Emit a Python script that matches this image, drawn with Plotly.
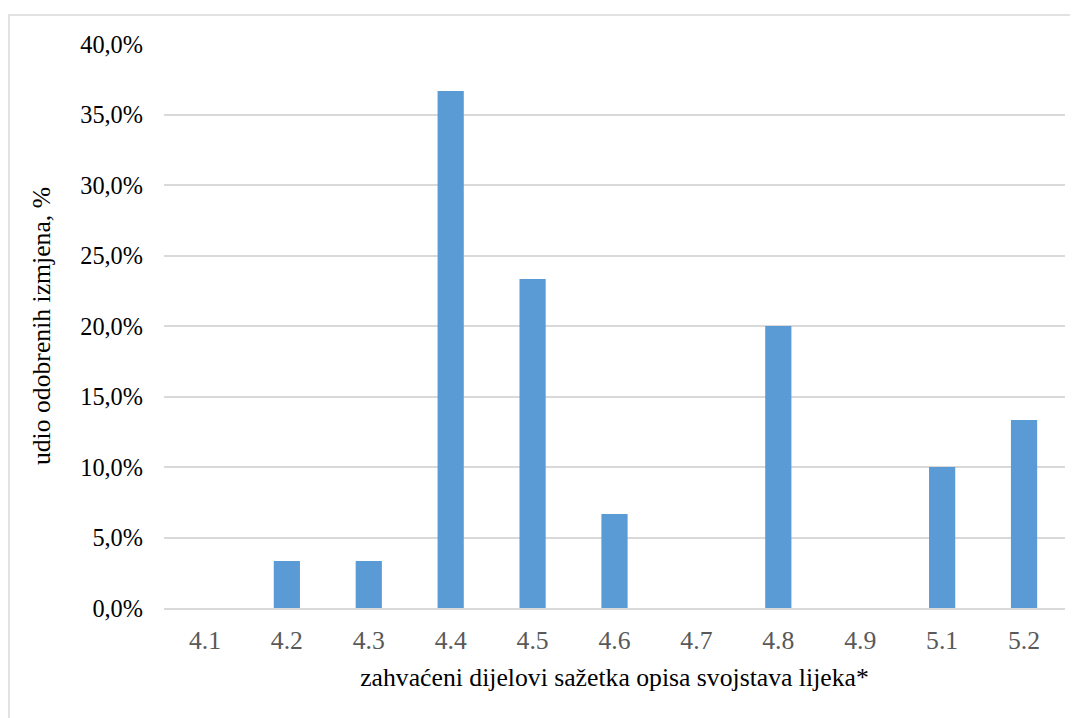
import plotly.graph_objects as go

categories = ["4.1", "4.2", "4.3", "4.4", "4.5", "4.6", "4.7", "4.8", "4.9", "5.1", "5.2"]
values = [0.0, 3.33, 3.33, 36.67, 23.33, 6.67, 0.0, 20.0, 0.0, 10.0, 13.33]
y_ticks = [0, 5, 10, 15, 20, 25, 30, 35, 40]
y_tick_labels = [f"{v:.1f}".replace(".", ",") + "%" for v in y_ticks]

FONT = "Liberation Serif"

fig = go.Figure(go.Bar(x=categories, y=values, marker=dict(color="#5b9bd5", line=dict(width=0))))

fig.update_layout(
    width=1070, height=710,
    margin=dict(l=156, r=13, t=36, b=110),
    plot_bgcolor="white", paper_bgcolor="white",
    bargap=0.68,
    showlegend=False,
    font=dict(family=FONT, color="black", size=24),
    shapes=[dict(type="rect", xref="paper", yref="paper",
                 x0=-0.172, x1=1.05, y0=-0.3, y1=1.0514,
                 line=dict(color="#d9d9d9", width=1.5), layer="below")],
)
fig.update_xaxes(
    type="category", showgrid=False, showline=True, linecolor="#d9d9d9", linewidth=1.5,
    ticks="", tickfont=dict(family=FONT, size=25.7, color="#595959"),
    ticklabelstandoff=8,
    title=dict(text="zahvaćeni dijelovi sažetka opisa svojstava lijeka*",
               font=dict(family=FONT, size=25.7, color="black"), standoff=14),
)
fig.update_yaxes(
    range=[0, 40], tickvals=y_ticks, ticktext=y_tick_labels,
    showgrid=True, gridcolor="#d9d9d9", gridwidth=1.5, zeroline=False,
    showline=False, ticks="", tickfont=dict(family=FONT, size=24.3, color="black"),
    ticklabelstandoff=20,
    title=dict(text="udio odobrenih izmjena, %", font=dict(family=FONT, size=25.7, color="black"), standoff=22),
)

fig.write_html("out.html")
